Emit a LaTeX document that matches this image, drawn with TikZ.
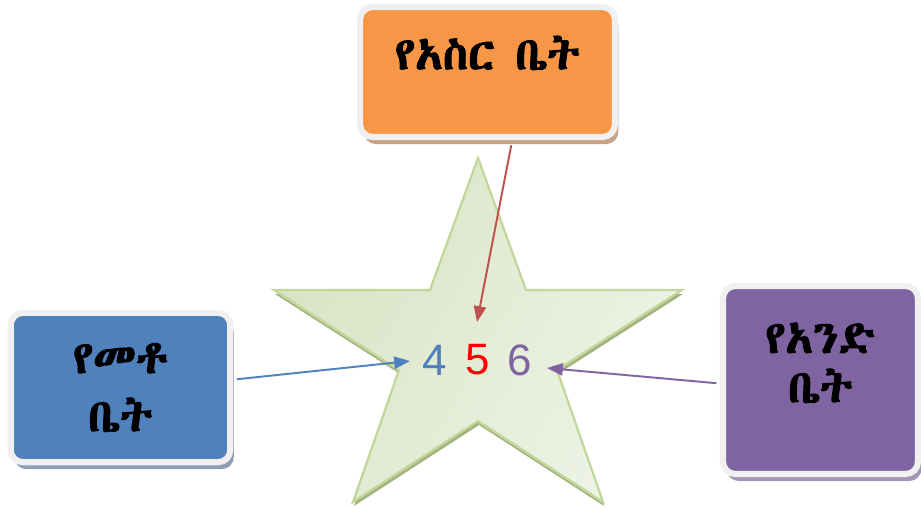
\documentclass[tikz,border=0pt]{standalone}
\usepackage{fontspec}
\setmainfont{Liberation Sans}
\IfFontExistsTF{Abyssinica SIL}
  {\newfontfamily\ethfont{Abyssinica SIL}[FakeBold=2]}
  {\IfFontExistsTF{FreeSerif}
    {\newfontfamily\ethfont{FreeSerif}[FakeBold=2]}
    {\newfontfamily\ethfont{Noto Sans}}}
\usetikzlibrary{arrows.meta,shadows}

\definecolor{boxrim}{HTML}{F0F0F0}
\definecolor{tensfill}{HTML}{F79646}
\definecolor{tensshade}{HTML}{C9A080}
\definecolor{tensarrow}{HTML}{C0504D}
\definecolor{hundfill}{HTML}{4F81BD}
\definecolor{hundshade}{HTML}{8E9CB6}
\definecolor{onesfill}{HTML}{8064A2}
\definecolor{onesshade}{HTML}{A296B4}
\definecolor{starlight}{HTML}{EEF3E6}
\definecolor{stardark}{HTML}{D9E4C4}
\definecolor{starline}{HTML}{C3D69B}
\definecolor{starshade}{HTML}{A3B47F}

\begin{document}
\begin{tikzpicture}[x=0.02cm,y=-0.02cm,>={Triangle[length=9pt,width=7pt]},line width=1.1pt]
\tikzstyle{place}=[rectangle,rounded corners=7pt,draw=boxrim,line width=3.5pt,inner sep=0pt,
                   align=center,text=black,font=\ethfont\fontsize{26pt}{33pt}\selectfont]
\tikzstyle{digit}=[inner sep=0pt,font=\fontsize{25pt}{30pt}\selectfont]

\useasboundingbox (0,0) rectangle (921,508);

  % the star
  \fill[starshade] [shift={(1,4)}]
        (478,158) -- (526,290) -- (682,290) -- (557,370) -- (603,502) -- (478,421)
     -- (353,502) -- (399,370) -- (274,290) -- (430,290) -- cycle;
  \draw[starline,line width=1.3pt,left color=stardark,right color=starlight,shading angle=60]
        (478,158) -- (526,290) -- (682,290) -- (557,370) -- (603,502) -- (478,421)
     -- (353,502) -- (399,370) -- (274,290) -- (430,290) -- cycle;

  % the three places
  \node[place,fill=tensfill,drop shadow={shadow xshift=2pt,shadow yshift=-4pt,opacity=1,fill=tensshade},
        minimum width=145pt,minimum height=74pt,text height=19pt,text depth=22pt]
        (tens) at (487.5,72) {የአስር ቤት};
  \node[place,fill=hundfill,drop shadow={shadow xshift=2pt,shadow yshift=-4pt,opacity=1,fill=hundshade},
        minimum width=125pt,minimum height=85pt]
        (hundreds) at (120.5,387.5) {የመቶ\\ቤት};
  \node[place,fill=onesfill,drop shadow={shadow xshift=2pt,shadow yshift=-4pt,opacity=1,fill=onesshade},
        minimum width=111pt,minimum height=107pt,font=\ethfont\fontsize{26pt}{28pt}\selectfont,text depth=20pt]
        (ones) at (820.5,380) {የአንድ\\ቤት};

  % the number
  \node[digit,text=hundfill]    (four) at (435,360) {4};
  \node[digit,text=red]         (five) at (478,360) {5};
  \node[digit,text=onesfill]    (six)  at (520,360) {6};

  \coordinate (tipfour) at (410,361);
  \coordinate (tipfive) at (477,322);
  \coordinate (tipsix)  at (547,368);

  \path[->]
  (tens.-70)     edge[tensarrow,shorten <=3pt] (tipfive)
  (hundreds.4)   edge[hundfill,shorten <=2pt]  (tipfour)
  (ones.182)     edge[onesfill,shorten <=2pt]  (tipsix)
  ; %end path

\end{tikzpicture}
\end{document}
